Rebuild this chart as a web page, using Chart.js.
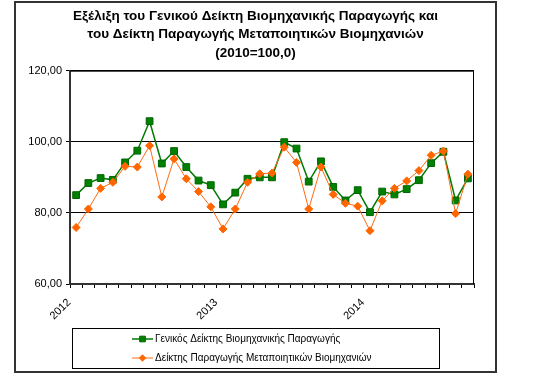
<!DOCTYPE html>
<html>
<head>
<meta charset="utf-8">
<script src="https://cdn.jsdelivr.net/npm/chart.js@4.4.0/dist/chart.umd.min.js"></script>
<style>
  html, body { margin: 0; padding: 0; background: #fff; }
  #frame { position: absolute; left: 14px; top: 1px; width: 479px; height: 368px; border: 2px solid #333; }
  #frame canvas { display: block; }
</style>
</head>
<body>
<div id="frame"><canvas id="chart" width="479" height="368"></canvas></div>
<script>
// Monthly indices, Jan 2012 - Sep 2014 (2010=100,0)
const yearLabels = ['2012', '2013', '2014'];
const monthCount = 33;
const generalIndex = [85.0, 88.4, 89.8, 89.3, 94.2, 97.5, 105.8, 93.9, 97.4, 92.9, 89.1, 87.8,
                      82.4, 85.7, 89.6, 90.0, 90.0, 99.9, 98.1, 88.8, 94.5, 87.3, 83.5, 86.4,
                      80.2, 86.0, 85.2, 86.7, 89.2, 94.0, 97.2, 83.5, 89.7];
const manufIndex = [75.9, 81.1, 86.9, 88.6, 93.1, 92.9, 98.9, 84.5, 95.2, 89.6, 86.0, 81.7,
                    75.5, 81.1, 88.6, 91.0, 91.2, 98.5, 94.2, 81.1, 92.9, 85.2, 82.7, 81.9,
                    75.0, 83.4, 86.9, 89.0, 91.9, 96.2, 97.4, 79.8, 90.9];
const seriesNames = ['Γενικός Δείκτης Βιομηχανικής Παραγωγής', 'Δείκτης Παραγωγής Μεταποιητικών Βιομηχανιών'];
const titleLines = ['Εξέλιξη του Γενικού Δείκτη Βιομηχανικής Παραγωγής και',
                    'του Δείκτη Παραγωγής Μεταποιητικών Βιομηχανιών',
                    '(2010=100,0)'];

const labels = [];
for (let i = 0; i < monthCount; i++) labels.push(i % 12 === 0 ? yearLabels[i / 12] : '');

const FONT = "'Liberation Sans', Arial, sans-serif";

// title centred on the frame, plot-area frame, boxed legend under the axis
const frameAndLegend = {
    id: 'frameAndLegend',
    beforeDatasetsDraw(chart) {
        const a = chart.chartArea, ctx = chart.ctx;
        ctx.save();
        ctx.strokeStyle = '#000';
        ctx.lineWidth = 1;
        ctx.beginPath();
        ctx.moveTo(a.left, a.top + 0.5);
        ctx.lineTo(a.right - 0.5, a.top + 0.5);
        ctx.lineTo(a.right - 0.5, a.bottom);
        ctx.stroke();
        ctx.restore();
    },
    afterDraw(chart) {
        const ctx = chart.ctx;
        ctx.save();
        ctx.fillStyle = '#000';
        ctx.textAlign = 'center';
        ctx.textBaseline = 'middle';
        ctx.font = 'bold 13.5px ' + FONT;
        titleLines.forEach((t, i) => ctx.fillText(t, chart.width / 2, 13 + i * 18.5));

        ctx.textAlign = 'left';
        ctx.strokeStyle = '#000';
        ctx.lineWidth = 1;
        ctx.strokeRect(56.5, 325.5, 367, 40);
        ctx.font = '10px ' + FONT;
        chart.data.datasets.forEach((ds, i) => {
            const y = 336 + i * 19;
            ctx.strokeStyle = ds.borderColor;
            ctx.lineWidth = ds.borderWidth;
            ctx.beginPath();
            ctx.moveTo(116, y);
            ctx.lineTo(137, y);
            ctx.stroke();
            ctx.fillStyle = ds.pointBackgroundColor;
            ctx.strokeStyle = ds.pointBorderColor;
            ctx.lineWidth = 1;
            Chart.helpers.drawPoint(ctx, {
                pointStyle: ds.pointStyle, radius: ds.pointRadius - 0.8, borderWidth: 1, rotation: 0
            }, 126.5, y);
            ctx.fillStyle = '#000';
            ctx.fillText(ds.label, 139, y + 0.5);
        });
        ctx.restore();
    }
};

new Chart(document.getElementById('chart'), {
    type: 'line',
    data: {
        labels: labels,
        datasets: [
            {
                label: seriesNames[0], data: generalIndex, order: 2,
                borderColor: '#007a00', borderWidth: 1.5,
                pointStyle: 'rect', pointRadius: 4.8,
                pointBackgroundColor: '#008000', pointBorderColor: '#006600', pointBorderWidth: 1
            },
            {
                label: seriesNames[1], data: manufIndex, order: 1,
                borderColor: '#ff6a10', borderWidth: 1,
                pointStyle: 'rectRot', pointRadius: 4,
                pointBackgroundColor: '#ff6600', pointBorderColor: '#ff6600', pointBorderWidth: 1
            }
        ]
    },
    options: {
        responsive: false, animation: false, devicePixelRatio: 1,
        layout: { padding: { left: 0, right: 21, top: 67.7, bottom: 47 } },
        plugins: {
            legend: { display: false },
            tooltip: { enabled: false },
            title: { display: false }
        },
        scales: {
            x: {
                offset: true,
                afterFit: s => { s.height = 40; },
                grid: { offset: true, drawOnChartArea: false, drawTicks: true, tickLength: 4, color: '#000' },
                border: { display: true, width: 2, color: '#333' },
                ticks: {
                    autoSkip: false, maxRotation: 45, minRotation: 45, color: '#000',
                    font: { family: FONT, size: 11 }, padding: 8, labelOffset: -7
                }
            },
            y: {
                min: 60, max: 120,
                afterFit: s => { s.width = 54; },
                grid: { color: '#000', lineWidth: 1, tickLength: 4 },
                border: { display: true, width: 2, color: '#333' },
                ticks: {
                    stepSize: 20, color: '#000', padding: 4,
                    font: { family: FONT, size: 11 },
                    callback: v => v.toFixed(2).replace('.', ',')
                }
            }
        }
    },
    plugins: [frameAndLegend]
});
</script>
</body>
</html>
